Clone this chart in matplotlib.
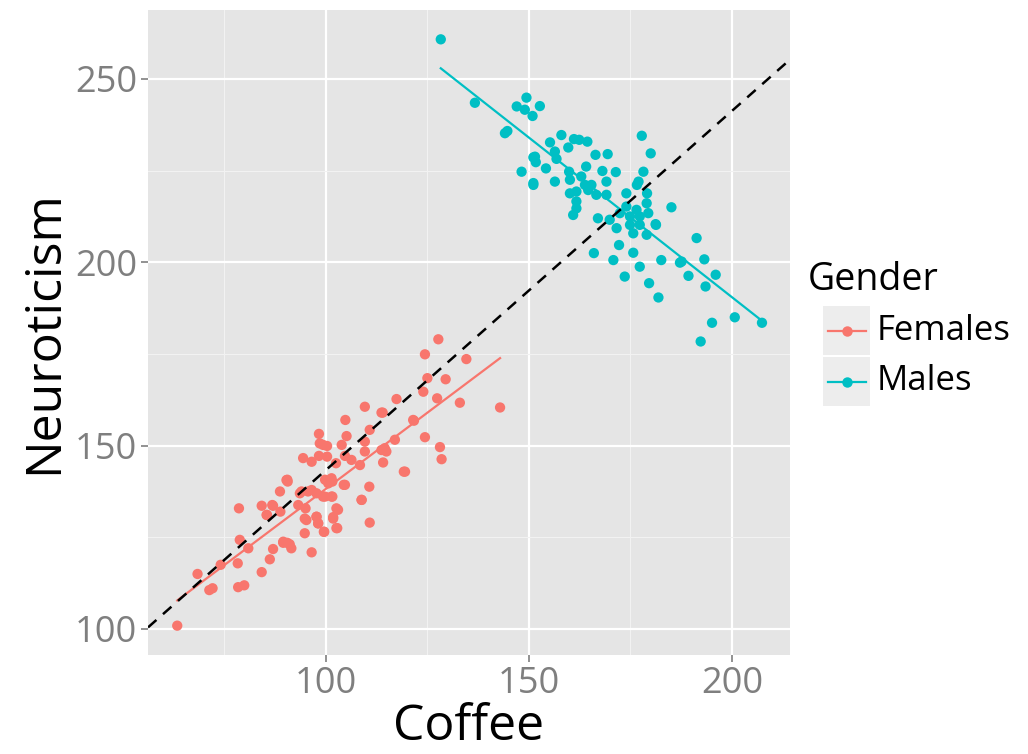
import numpy as np
import matplotlib
matplotlib.use("Agg")
import matplotlib.pyplot as plt
from matplotlib.lines import Line2D
from matplotlib.patches import Rectangle

plt.rcParams['font.family'] = ['Open Sans', 'DejaVu Sans']

# ---- data ----
female_coffee = [63.4, 78.6, 84.2, 87.0, 85.5, 88.8, 88.7, 90.6, 78.8, 80.9, 78.3, 74.1, 68.4,
                 71.3, 72.1, 78.4, 79.9, 84.2, 86.2, 87.0, 89.5, 91.5, 90.5, 96.5, 94.8, 95.2,
                 95.0, 97.7, 98.1, 99.6, 101.8, 102.6, 93.2, 93.6, 95.6, 97.7, 99.8, 101.4,
                 100.6, 102.6, 101.6, 104.4, 110.7, 101.6, 108.8, 103.0, 101.8, 102.8, 110.8,
                 109.6, 117.4, 114.0, 104.8, 98.3, 105.1, 98.5, 100.3, 109.6, 110.8, 117.0,
                 121.7, 103.9, 94.4, 96.5, 98.3, 100.3, 102.5, 104.7, 106.3, 108.4, 109.6,
                 113.7, 114.9, 119.2, 90.5, 94.0, 96.5, 99.8, 101.4, 99.3, 104.7, 108.8,
                 86.8, 85.4, 94.8, 97.7, 98.1, 99.5, 89.5, 91.1, 127.7, 124.4, 134.6, 125.0,
                 129.5, 124.0, 127.4, 133.0, 142.9, 113.7, 121.5, 124.4, 128.1, 128.5, 119.5,
                 114.1, 114.5, 99.3, 90.3]
female_neuro = [100.9, 132.9, 133.6, 133.6, 131.1, 132.0, 137.5, 140.2, 124.3, 122.0, 117.9,
                117.5, 115.0, 110.6, 111.1, 111.4, 111.9, 115.5, 119.0, 121.8, 123.8, 122.0,
                123.5, 120.9, 126.1, 129.7, 132.9, 130.6, 128.8, 126.5, 130.1, 127.5, 133.8,
                137.0, 137.5, 137.0, 136.1, 136.1, 139.7, 132.9, 140.2, 139.3, 138.8, 136.1,
                135.2, 132.5, 130.5, 127.5, 129.0, 160.6, 162.7, 159.0, 157.0, 153.2, 152.6,
                150.6, 149.9, 151.1, 154.3, 151.6, 156.8, 150.2, 146.6, 145.6, 147.2, 147.0,
                145.2, 147.2, 146.1, 144.7, 148.4, 148.8, 148.4, 142.9, 140.7, 137.5, 137.9,
                140.7, 141.1, 136.1, 139.3, 135.2, 133.8, 131.1, 130.1, 130.6, 128.8, 126.5,
                123.5, 123.1, 179.0, 174.9, 173.6, 168.4, 168.1, 164.7, 162.9, 161.7, 160.4,
                159.0, 157.0, 152.3, 149.6, 146.3, 142.9, 145.4, 149.3, 150.2, 140.6]

male_coffee = [128.3, 136.7, 149.4, 147.0, 149.0, 152.7, 150.9, 144.7, 144.1, 158.0, 155.2,
               161.1, 162.4, 164.4, 159.7, 156.4, 151.1, 151.7, 154.2, 156.8, 148.2, 166.4,
               164.1, 159.9, 168.1, 151.1, 156.4, 162.9, 177.8, 180.0, 169.4, 171.4, 178.2,
               177.0, 151.1, 160.1, 163.8, 165.4, 169.1, 161.7, 164.6, 166.6, 160.1, 169.1,
               161.7, 161.7, 160.9, 167.0, 169.9, 174.0, 176.6, 179.1, 179.0, 174.0, 176.5,
               172.4, 174.9, 177.3, 179.4, 185.1, 171.6, 174.9, 177.3, 179.0, 181.3, 175.7,
               172.2, 166.0, 170.8, 175.7, 182.6, 187.6, 191.3, 177.3, 173.6, 187.2, 193.2,
               179.6, 181.9, 189.3, 196.0, 193.5, 200.7, 195.1, 207.4, 192.3, 181.2, 151.5]
male_neuro = [260.8, 243.5, 244.9, 242.5, 241.6, 242.6, 239.9, 235.8, 235.2, 234.7, 232.7,
              233.6, 233.4, 232.9, 231.3, 230.2, 228.6, 227.3, 225.6, 228.2, 224.7, 229.3,
              226.1, 224.7, 224.9, 221.6, 222.0, 223.4, 234.5, 229.7, 229.5, 224.6, 224.7,
              222.0, 221.1, 222.5, 221.1, 221.1, 222.0, 219.3, 219.7, 218.4, 218.8, 218.4,
              216.6, 214.7, 212.9, 212.0, 211.6, 218.8, 221.1, 218.8, 216.1, 215.2, 214.3,
              213.4, 212.5, 212.5, 213.4, 215.0, 209.3, 210.2, 210.2, 207.5, 210.2, 207.9,
              204.7, 202.5, 200.6, 202.6, 200.6, 200.2, 206.6, 198.8, 196.1, 199.9, 200.8,
              194.3, 190.4, 196.3, 196.6, 193.4, 185.0, 183.5, 183.5, 178.4, 210.4, 228.8]

groups = ["Females", "Males"]
colors = {"Females": "#F8766D", "Males": "#00BFC4"}
x_ticks = [100, 150, 200]
y_ticks = [100, 150, 200, 250]

W, H = 1028, 754
fig = plt.figure(figsize=(W / 100, H / 100), dpi=100)
ax = fig.add_axes([148 / W, 1 - 655 / H, (790 - 148) / W, (655 - 10) / H])
ax.set_facecolor("#E5E5E5")

data = {"Females": (np.array(female_coffee), np.array(female_neuro)),
        "Males": (np.array(male_coffee), np.array(male_neuro))}

for g in groups:
    xs, ys = data[g]
    ax.scatter(xs, ys, s=55, color=colors[g], edgecolors="none", zorder=3)
    b, a = np.polyfit(xs, ys, 1)
    xl = np.array([xs.min(), xs.max()])
    ax.plot(xl, a + b * xl, color=colors[g], lw=1.6, zorder=4)

allx = np.concatenate([data[g][0] for g in groups])
ally = np.concatenate([data[g][1] for g in groups])
b, a = np.polyfit(allx, ally, 1)
ax.axline((100, a + b * 100), slope=b, color="black", lw=1.8, ls=(0, (4.5, 3.5)), zorder=5)

ax.set_xlim(56.2, 214.3)
ax.set_ylim(92.9, 268.8)
ax.set_xticks(x_ticks)
ax.set_yticks(y_ticks)
ax.set_xticks([75, 125, 175], minor=True)
ax.set_yticks([125, 175, 225], minor=True)
ax.grid(which="major", color="white", lw=1.6)
ax.grid(which="minor", color="#F2F2F2", lw=0.8)
ax.set_axisbelow(True)
for sp in ax.spines.values():
    sp.set_visible(False)
ax.tick_params(which="major", length=5, width=1.2, color="#7F7F7F",
               labelsize=26, labelcolor="#7F7F7F", pad=3)
ax.tick_params(which="minor", length=0)
ax.set_xlabel("Coffee", fontsize=36, color="black", labelpad=0)
ax.set_ylabel("Neuroticism", fontsize=36, color="black", labelpad=4)

# ---- legend (ggplot style, drawn in figure pixel coordinates) ----
def fx(px):
    return px / W

def fy(py):
    return 1 - py / H

fig.text(fx(808), fy(280), "Gender", fontsize=27, color="black", va="center", ha="left")
key_top = 306
key_h = 49
for i, g in enumerate(groups):
    top = key_top + i * (key_h + 2)
    fig.patches.append(Rectangle((fx(823), fy(top + key_h)), (870 - 823) / W, key_h / H,
                                 transform=fig.transFigure, facecolor="#EDEDED",
                                 edgecolor="none", zorder=1))
    cy = top + key_h / 2
    fig.add_artist(Line2D([fx(828), fx(866)], [fy(cy), fy(cy)], color=colors[g], lw=1.6,
                          transform=fig.transFigure, zorder=2))
    fig.add_artist(Line2D([fx(847)], [fy(cy)], color=colors[g], marker="o", markersize=7.5,
                          markeredgecolor="none", transform=fig.transFigure, zorder=3))
    fig.text(fx(877), fy(cy), g, fontsize=25, color="black", va="center", ha="left")

fig.savefig("out.png", dpi=100)
